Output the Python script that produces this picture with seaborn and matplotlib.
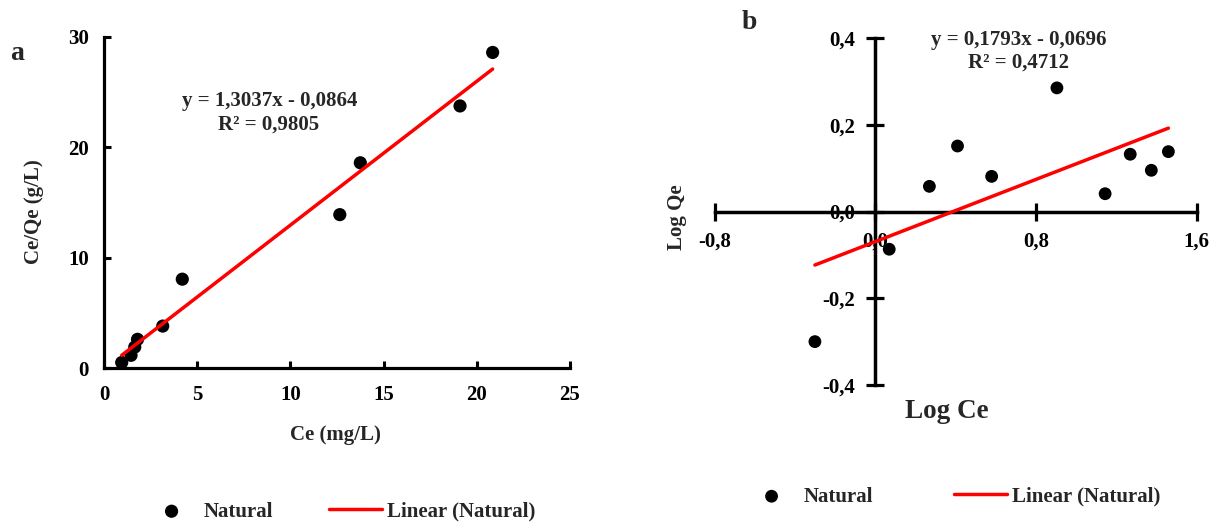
import numpy as np
import matplotlib
matplotlib.use("Agg")
import matplotlib.pyplot as plt
import seaborn as sns
from matplotlib.ticker import FuncFormatter

# ---------------- data ----------------
# panel a : Langmuir linear form
ce_a = [0.95, 1.45, 1.65, 1.8, 3.15, 4.2, 12.65, 13.75, 19.1, 20.85]
ceqe_a = [0.5, 1.15, 1.9, 2.6, 3.8, 8.05, 13.9, 18.6, 23.75, 28.6]
slope_a, intercept_a, r2_a = 1.3037, -0.0864, 0.9805

# panel b : Freundlich linear form
logce_b = [-0.30, 0.07, 0.27, 0.41, 0.58, 0.905, 1.145, 1.27, 1.375, 1.46]
logqe_b = [-0.30, -0.087, 0.058, 0.151, 0.081, 0.285, 0.041, 0.132, 0.095, 0.138]
slope_b, intercept_b, r2_b = 0.1793, -0.0696, 0.4712

xticks_a = [0, 5, 10, 15, 20, 25]
yticks_a = [0, 10, 20, 30]
xticks_b = [-0.8, 0.0, 0.8, 1.6]
yticks_b = [-0.4, -0.2, 0.0, 0.2, 0.4]

series_label = "Natural"
fit_label = "Linear (Natural)"

# ---------------- style ----------------
sns.set_theme(style="white")
plt.rcParams["font.family"] = ["Liberation Serif", "DejaVu Serif"]
plt.rcParams["font.weight"] = "bold"
plt.rcParams["axes.labelweight"] = "bold"

W, H = 1219, 523
fig = plt.figure(figsize=(W / 100, H / 100), dpi=100)


def add_ax(l, r, t, b):
    return fig.add_axes([l / W, 1 - b / H, (r - l) / W, (b - t) / H])


def comma(v, pos=None):
    v = round(v, 1)
    if v == 0:
        v = 0.0
    return f"{v:.1f}".replace(".", ",")


def fmt_eq(s, i):
    sign = "-" if i < 0 else "+"
    return (f"y = {s:.4f}x {sign} {abs(i):.4f}").replace(".", ",")


RED = "#FF0000"
FS = 15

# ---------------- panel a ----------------
axA = add_ax(104, 570, 37, 368)
sns.scatterplot(x=ce_a, y=ceqe_a, ax=axA, color="black", s=90,
                edgecolor="none", label=series_label, zorder=3)
xf = np.array([min(ce_a), max(ce_a)])
sns.lineplot(x=xf, y=slope_a * xf + intercept_a, ax=axA, color=RED,
             linewidth=2.5, label=fit_label, zorder=4)
axA.set_xlim(0, 25)
axA.set_ylim(0, 30)
axA.set_xticks(xticks_a)
axA.set_yticks(yticks_a)
for s in ["top", "right"]:
    axA.spines[s].set_visible(False)
for s in ["left", "bottom"]:
    axA.spines[s].set_linewidth(2.3)
    axA.spines[s].set_color("black")
axA.tick_params(axis="both", direction="in", length=5, width=2.2,
                bottom=True, left=True, labelsize=FS, colors="black")
axA.tick_params(axis="x", pad=12)
axA.tick_params(axis="y", pad=11)
axA.set_xlabel("Ce (mg/L)", fontsize=FS)
axA.set_ylabel("Ce/Qe (g/L)", fontsize=FS)
axA.xaxis.set_label_coords((335 - 104) / 466, (368 - 435) / 331)
axA.xaxis.label.set_va("center")
axA.yaxis.set_label_coords((33.5 - 104) / 466, (368 - 212) / 331)
axA.yaxis.label.set_va("center")
h, l = axA.get_legend_handles_labels()
axA.legend(h, l, loc="center left", bbox_to_anchor=(145 / W, 1 - 511.7 / H),
           bbox_transform=fig.transFigure, ncol=2, frameon=False,
           handlelength=2.55, handletextpad=0.25, columnspacing=2.7,
           borderpad=0, borderaxespad=0, prop={"size": FS, "weight": "bold"})

fig.text(270 / W, 1 - 100.7 / H, fmt_eq(slope_a, intercept_a), ha="center",
         va="center", fontsize=FS, fontweight="bold")
fig.text(269 / W, 1 - 125 / H, f"R² = {r2_a:.4f}".replace(".", ","),
         ha="center", va="center", fontsize=FS, fontweight="bold")
fig.text(17.5 / W, 1 - 54 / H, "a", ha="center", va="center", fontsize=20,
         fontweight="bold")

# ---------------- panel b ----------------
axB = add_ax(714.5, 1196.5, 38, 385)
sns.scatterplot(x=logce_b, y=logqe_b, ax=axB, color="black", s=85,
                edgecolor="none", label=series_label, zorder=3)
xfb = np.array([min(logce_b), max(logce_b)])
sns.lineplot(x=xfb, y=slope_b * xfb + intercept_b, ax=axB, color=RED,
             linewidth=2.5, label=fit_label, zorder=4)
axB.set_xlim(-0.8, 1.6)
axB.set_ylim(-0.4, 0.4)
axB.set_xticks(xticks_b)
axB.set_yticks(yticks_b)
axB.xaxis.set_major_formatter(FuncFormatter(comma))
axB.yaxis.set_major_formatter(FuncFormatter(comma))
for s in ["top", "right"]:
    axB.spines[s].set_visible(False)
for s in ["left", "bottom"]:
    axB.spines[s].set_position(("data", 0))
    axB.spines[s].set_linewidth(2.5)
    axB.spines[s].set_color("black")
    axB.spines[s].set_zorder(2)
axB.tick_params(axis="both", direction="inout", length=13, width=2.3,
                bottom=True, left=True, labelsize=FS, colors="black", pad=8)
axB.set_xlabel("Log Ce", fontsize=19.5)
axB.set_ylabel("Log Qe", fontsize=FS)
axB.xaxis.set_label_coords((947 - 714.5) / 482, (385 - 411) / 347)
axB.xaxis.label.set_va("center")
axB.yaxis.set_label_coords((677 - 714.5) / 482, (385 - 217) / 347)
axB.yaxis.label.set_va("center")
h, l = axB.get_legend_handles_labels()
axB.legend(h, l, loc="center left", bbox_to_anchor=(745 / W, 1 - 496.7 / H),
           bbox_transform=fig.transFigure, ncol=2, frameon=False,
           handlelength=2.55, handletextpad=0.25, columnspacing=3.9,
           borderpad=0, borderaxespad=0, prop={"size": FS, "weight": "bold"})

fig.text(1019 / W, 1 - 40 / H, fmt_eq(slope_b, intercept_b), ha="center",
         va="center", fontsize=FS, fontweight="bold")
fig.text(1019 / W, 1 - 63 / H, f"R² = {r2_b:.4f}".replace(".", ","),
         ha="center", va="center", fontsize=FS, fontweight="bold")
fig.text(749 / W, 1 - 22.5 / H, "b", ha="center", va="center", fontsize=20,
         fontweight="bold")

fig.savefig("out.png", dpi=100)
